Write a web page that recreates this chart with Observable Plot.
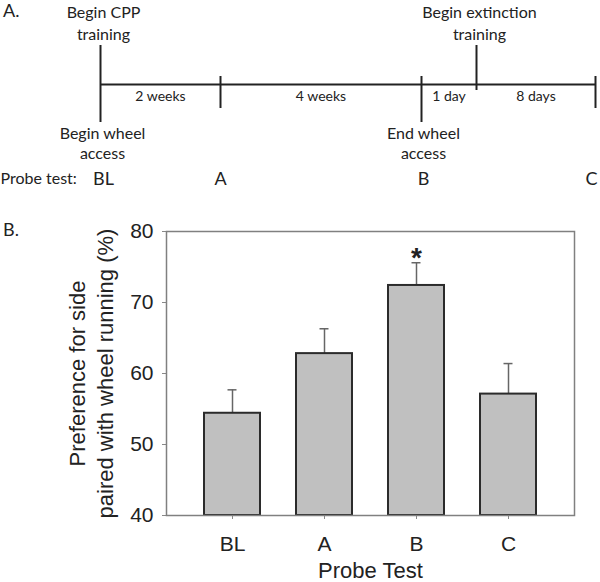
<!DOCTYPE html>
<html>
<head>
<meta charset="utf-8">
<script src="https://cdn.jsdelivr.net/npm/d3@7"></script>
<script src="https://cdn.jsdelivr.net/npm/@observablehq/plot@0.6"></script>
<style>
  html, body { margin: 0; padding: 0; background: #fff; }
  #wrap { position: relative; width: 600px; height: 582px; overflow: hidden; }
  .panel { position: absolute; left: 3px; font-family: Lato, "Open Sans", sans-serif; font-size: 18px; color: #222; }
  svg { display: block; }
</style>
</head>
<body>
<div id="wrap">
  <div id="timeline"></div>
  <div id="bars"></div>
  <div class="panel" style="top:-1px">A.</div>
  <div class="panel" style="top:218px">B.</div>
</div>
<script>
// ---------- Panel A: timeline data ----------
const eventIds   = ["BL", "A", "B", "ext", "C"];
const eventPos   = [0, 120, 321, 376, 495];          // schematic positions along the timeline
const eventKind  = ["start", "tick", "end", "milestone", "tick"];
const aboveText  = ["Begin CPP\ntraining", "", "", "Begin extinction\ntraining", ""];
const belowText  = ["Begin wheel\naccess", "", "End wheel\naccess", "", ""];
const intervalLabels = ["2 weeks", "4 weeks", "1 day", "8 days"];
const probeLabels = ["BL", "A", "B", "C"];
const probePos    = [3, 120, 323, 491];
const probeRowLabel = "Probe test:";

// ---------- Panel B: bar chart data ----------
const tests = ["BL", "A", "B", "C"];
const means = [54.4, 62.8, 72.4, 57.1];
const sems  = [3.3, 3.5, 3.2, 4.3];
const significant = [false, false, true, false];
const yTicks = [40, 50, 60, 70, 80];
const yLabel = "Preference for side\npaired with wheel running (%)";
const xLabel = "Probe Test";

// ---------- Panel A drawing ----------
const LINE_Y = 84;
const kindExtent = {            // tick extent above / below the main line
  start:     [45, 122],
  tick:      [76, 108],
  end:       [76, 122],
  milestone: [45, 90]
};
const events = eventIds.map((id, i) => ({
  id, pos: eventPos[i], kind: eventKind[i],
  above: aboveText[i], below: belowText[i],
  y1: kindExtent[eventKind[i]][0], y2: kindExtent[eventKind[i]][1]
}));
const intervals = intervalLabels.map((label, i) => ({
  label, pos: (eventPos[i] + eventPos[i + 1]) / 2
}));
const probes = probeLabels.map((label, i) => ({ label, pos: probePos[i] }));

const tlFont = "Lato, 'Open Sans', sans-serif";
const timeline = Plot.plot({
  width: 600, height: 190,
  margin: 0,
  x: { domain: [-100, 500], range: [0, 600], axis: null },
  y: { domain: [0, 190], range: [0, 190], axis: null },
  style: { fontFamily: tlFont, fontSize: "16px", color: "#222", background: "white" },
  marks: [
    Plot.ruleY([LINE_Y], { x1: eventPos[0], x2: eventPos[eventPos.length - 1], stroke: "#222", strokeWidth: 2 }),
    Plot.ruleX(events, { x: "pos", y1: "y1", y2: "y2", stroke: "#222", strokeWidth: 2 }),
    Plot.text(events.filter(d => d.above), { x: "pos", y: 39, text: "above", lineAnchor: "bottom", lineHeight: 1.34, fontSize: 16, fill: "#222", dx: 3 }),
    Plot.text(events.filter(d => d.below), { x: "pos", y: 124, text: "below", lineAnchor: "top", lineHeight: 1.25, fontSize: 16, fill: "#222", dx: 2 }),
    Plot.text(intervals, { x: "pos", y: 100, text: "label", lineAnchor: "bottom", fontSize: 14, fill: "#222" }),
    Plot.text([probeRowLabel], { x: -100, y: 183, text: d => d, textAnchor: "start", lineAnchor: "bottom", fontSize: 16, fill: "#222" }),
    Plot.text(probes, { x: "pos", y: 184, text: "label", lineAnchor: "bottom", fontSize: 18, fill: "#222" })
  ]
});
document.getElementById("timeline").append(timeline);

// ---------- Panel B drawing ----------
const rows = tests.map((t, i) => ({ test: t, mean: means[i], top: means[i] + sems[i], sig: significant[i] }));
const barFont = "'Liberation Sans', Arial, sans-serif";
const bars = Plot.plot({
  width: 600, height: 392,
  marginTop: 41, marginBottom: 67, marginLeft: 166, marginRight: 26,
  style: { fontFamily: barFont, fontSize: "21px", color: "#222", background: "white" },
  x: { domain: tests, paddingInner: 0.39, paddingOuter: 0.405, label: null },
  y: { domain: [40, 80], label: null },
  marks: [
    Plot.axisY({ ticks: yTicks, tickSize: 4, tickPadding: 9, fontSize: 21, stroke: "#888", fill: "#222", label: null }),
    Plot.axisX({ tickSize: 4, tickPadding: 17, fontSize: 21, stroke: "#888", fill: "#222", label: null }),
    Plot.ruleX(rows, { x: "test", y1: "mean", y2: "top", stroke: "#666", strokeWidth: 1.5 }),
    Plot.tickY(rows, { x: "test", y: "top", stroke: "#666", strokeWidth: 1.5, insetLeft: 23.5, insetRight: 23.5 }),
    Plot.barY(rows, { x: "test", y1: 40, y2: "mean", fill: "#c0c0c0", stroke: "#2b2b2b", strokeWidth: 2 }),
    Plot.text(rows.filter(d => d.sig), { x: "test", y: "top", text: () => "*", lineAnchor: "bottom", dy: 4, fontSize: 28, fontWeight: "bold", fill: "#222" }),
    Plot.frame({ stroke: "#808080", strokeWidth: 1.5 }),
    Plot.text([yLabel], { frameAnchor: "left", text: d => d, rotate: -90, dx: -76, lineAnchor: "middle", textAnchor: "middle", lineHeight: 1.27, fontSize: 22, fill: "#222" }),
    Plot.text([xLabel], { frameAnchor: "bottom", text: d => d, lineAnchor: "bottom", dy: 62, fontSize: 22, fill: "#222" })
  ]
});
document.getElementById("bars").append(bars);
</script>
</body>
</html>
